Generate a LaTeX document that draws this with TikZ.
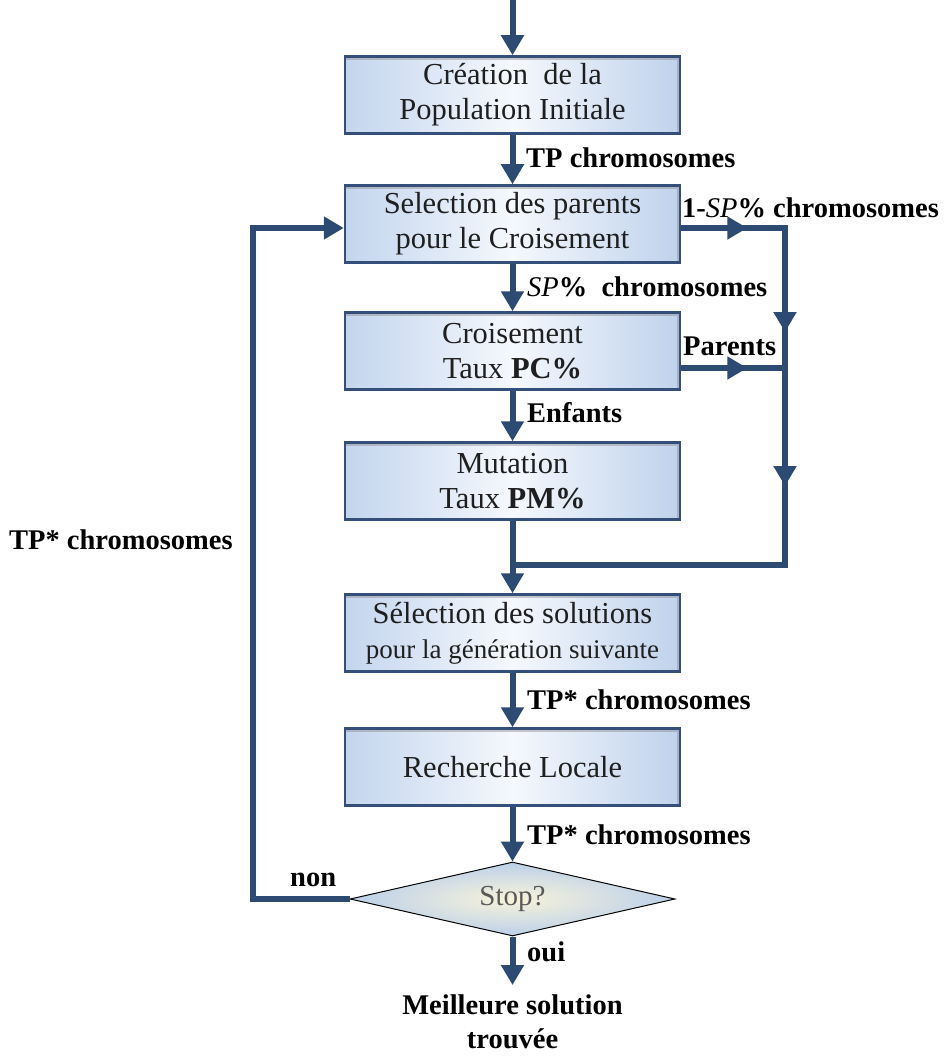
\documentclass[tikz,border=0pt]{standalone}
\usepackage{fontspec}
\setmainfont{Liberation Serif}
\usetikzlibrary{arrows.meta,shapes.geometric}
\definecolor{navy}{HTML}{2C4A72}
\definecolor{boxedge}{HTML}{34507A}
\definecolor{boxl}{HTML}{C3D5EE}
\definecolor{boxm}{HTML}{F5F8FD}
\definecolor{boxr}{HTML}{BFD2EC}
\definecolor{dcen}{HTML}{F8F3DA}
\definecolor{dout}{HTML}{BCD0EA}
\tikzset{
  flowbox/.style={rectangle, minimum width=335pt, minimum height=77pt, inner sep=0pt,
    draw=boxedge, line width=2.5pt, left color=boxl, right color=boxr, middle color=boxm,
    path picture={\draw[line width=7pt, black!45, opacity=0.45]
      (path picture bounding box.north west) -- (path picture bounding box.north east)
      -- (path picture bounding box.south east);},
    align=center, text=black!88, font=\fontsize{30.5}{35}\selectfont},
  decide/.style={diamond, aspect=4.4, inner sep=0pt, minimum width=325pt, minimum height=74pt,
    draw=black, line width=1pt, inner color=dcen, outer color=dout,
    text=black!65, font=\fontsize{29}{35}\selectfont},
  lab/.style={font=\bfseries\fontsize{28.5}{35}\selectfont, inner sep=0pt, align=center},
  flowline/.style={draw=navy, line width=6pt},
  flowarrow/.style={draw=navy, line width=6pt, -{Triangle[width=22pt,length=20pt]}},
}
\begin{document}
\begin{tikzpicture}[x=1pt,y=-1pt]
\useasboundingbox (0,0) rectangle (947,1059);
\fill[white] (0,0) rectangle (947,1059);

\node[flowbox] (b1) at (512.5,95) {Création\ \ de la\\Population Initiale};
\node[flowbox] (b2) at (512.5,224) {Selection des parents\\pour le Croisement};
\node[flowbox] (b3) at (512.5,351) {Croisement\\Taux \textbf{PC\%}};
\node[flowbox] (b4) at (512.5,481) {Mutation\\Taux \textbf{PM\%}};
\node[flowbox] (b5) at (512.5,633) {Sélection des solutions\\{\fontsize{27}{35}\selectfont pour la génération suivante}};
\node[flowbox] (b6) at (512.5,767) {Recherche Locale};
\node[decide] (d) at (512.5,899) {Stop?};

\coordinate (top) at (512.5,0);
\coordinate (rx) at (785,0);
\coordinate (lx) at (253,0);
\coordinate (jn) at (512.5,565);
\coordinate (endp) at (512.5,985);
\coordinate (e2) at ([yshift=-4pt]b2.east);
\coordinate (e3) at ([yshift=-17pt]b3.east);
\coordinate (w2) at ([yshift=-4pt]b2.west);

% main spine
\draw[flowarrow] (top) -- (b1.north);
\draw[flowarrow] (b1.south) -- (b2.north);
\draw[flowarrow] (b2.south) -- (b3.north);
\draw[flowarrow] (b3.south) -- (b4.north);
\draw[flowline] (b4.south) -- (jn);
\draw[flowarrow] (jn) -- (b5.north);
\draw[flowarrow] (b5.south) -- (b6.north);
\draw[flowarrow] (b6.south) -- (d.north);
\draw[flowarrow] (d.south) -- (endp);

% right bus
\draw[flowline, line join=miter] (e2) -- (e2 -| rx) -- (jn -| rx) -- (jn);
\draw[flowline] (e3) -- (e3 -| rx);
\draw[flowarrow] (e2) -- ([xshift=66pt]e2);
\draw[flowarrow] (e3) -- ([xshift=66pt]e3);
\draw[flowarrow] (e2 -| rx) -- ([yshift=-104pt]e2 -| rx);
\draw[flowarrow] (e3 -| rx) -- ([yshift=-118pt]e3 -| rx);

% left loop
\draw[flowline, line join=miter] (d.west) -- (d.west -| lx) -- (w2 -| lx);
\draw[flowarrow] ([xshift=-3pt]w2 -| lx) -- (w2);

% labels
\node[lab, anchor=west] (l1) at (526,158) {TP chromosomes};
\node[lab, anchor=west] (l2) at (682,208) {1-\textmd{\textit{SP}}\% chromosomes};
\node[lab, anchor=west] (l3) at (527,287) {\textmd{\textit{SP}}\%\ \ chromosomes};
\node[lab, anchor=west] (l4) at (683,346) {Parents};
\node[lab, anchor=west] (l5) at (527,413) {Enfants};
\node[lab, anchor=west] (l6) at (9,540) {TP* chromosomes};
\node[lab, anchor=west] (l7) at (527,700) {TP* chromosomes};
\node[lab, anchor=west] (l8) at (527,835) {TP* chromosomes};
\node[lab, anchor=west] (l9) at (290,880) {non};
\node[lab, anchor=west] (l10) at (527,952) {oui};
\node[lab, font=\bfseries\fontsize{28.5}{34}\selectfont] (res) at (512.5,1022) {Meilleure solution\\trouvée};
\end{tikzpicture}
\end{document}
